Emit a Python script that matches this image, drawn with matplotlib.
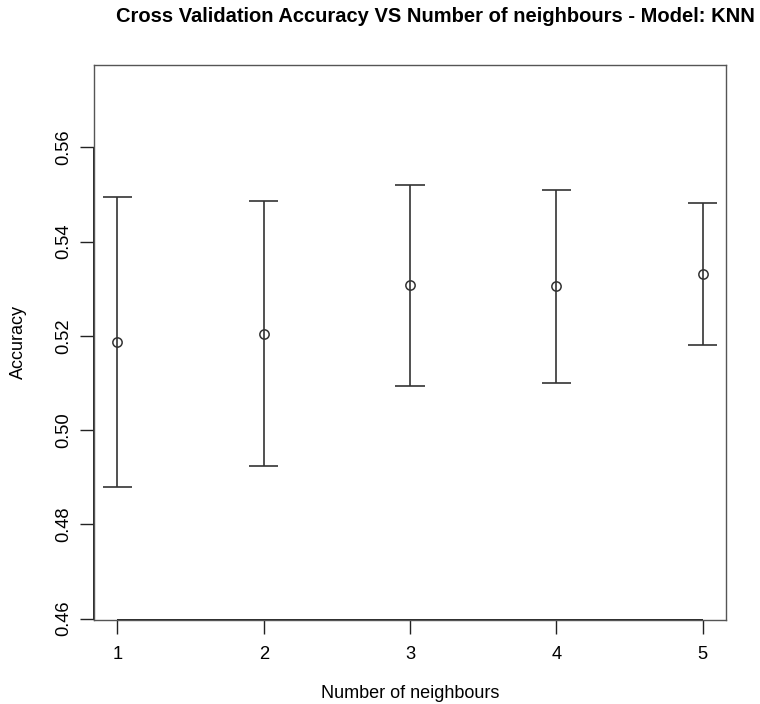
import matplotlib.pyplot as plt

plt.rcParams['font.family'] = ['Liberation Sans', 'DejaVu Sans']

# mean cross validation accuracy and its spread for each k
vecinos = [1, 2, 3, 4, 5]
precision = [0.5187, 0.5205, 0.5307, 0.5305, 0.5332]
desvio = [0.0308, 0.0282, 0.0214, 0.0204, 0.0151]

fig = plt.figure(figsize=(7.6, 7.04), dpi=100)
ax = fig.add_axes([94 / 760, 1 - 620 / 704, 632 / 760, 555 / 704])

color = '#333333'
inferior = [m - s for m, s in zip(precision, desvio)]
superior = [m + s for m, s in zip(precision, desvio)]

# bars and caps
ax.vlines(vecinos, inferior, superior, color=color, lw=1.2)
ax.hlines(inferior, [k - 0.1 for k in vecinos], [k + 0.1 for k in vecinos], color=color, lw=1.2)
ax.hlines(superior, [k - 0.1 for k in vecinos], [k + 0.1 for k in vecinos], color=color, lw=1.2)
ax.plot(vecinos, precision, 'o', mfc='none', mec=color, ms=6.7, mew=1.1)

ax.set_xlim(0.84, 5.16)
ax.set_ylim(0.4597, 0.5775)

yticks = [0.46, 0.48, 0.50, 0.52, 0.54, 0.56]
ax.set_xticks(vecinos)
ax.set_yticks(yticks)
ax.set_yticklabels([f'{v:.2f}' for v in yticks], rotation=90, va='center')
ax.tick_params(axis='both', direction='out', length=10, width=1, colors='#222222',
               labelsize=13.2, labelcolor='black')
ax.tick_params(axis='x', pad=9)
ax.tick_params(axis='y', pad=6)

for s in ax.spines.values():
    s.set_color('#555555')
    s.set_linewidth(1.0)

# axis lines only span the tick range
ax.plot([vecinos[0], vecinos[-1]], [0.4597, 0.4597], color='#222222', lw=1.4,
        clip_on=False, solid_capstyle='butt')
ax.plot([0.84, 0.84], [yticks[0], yticks[-1]], color='#222222', lw=1.4,
        clip_on=False, solid_capstyle='butt')

fig.text(18 / 760, 1 - 342 / 704, 'Accuracy', rotation=90, ha='center', va='center', fontsize=13)
fig.text(410 / 760, 1 - 694 / 704, 'Number of neighbours', ha='center', va='center', fontsize=13)
fig.text(435 / 760, 1 - 17 / 704, 'Cross Validation Accuracy VS Number of neighbours - Model: KNN',
         ha='center', va='center', fontsize=14.5, fontweight='bold')

fig.savefig('out.png', dpi=100)
